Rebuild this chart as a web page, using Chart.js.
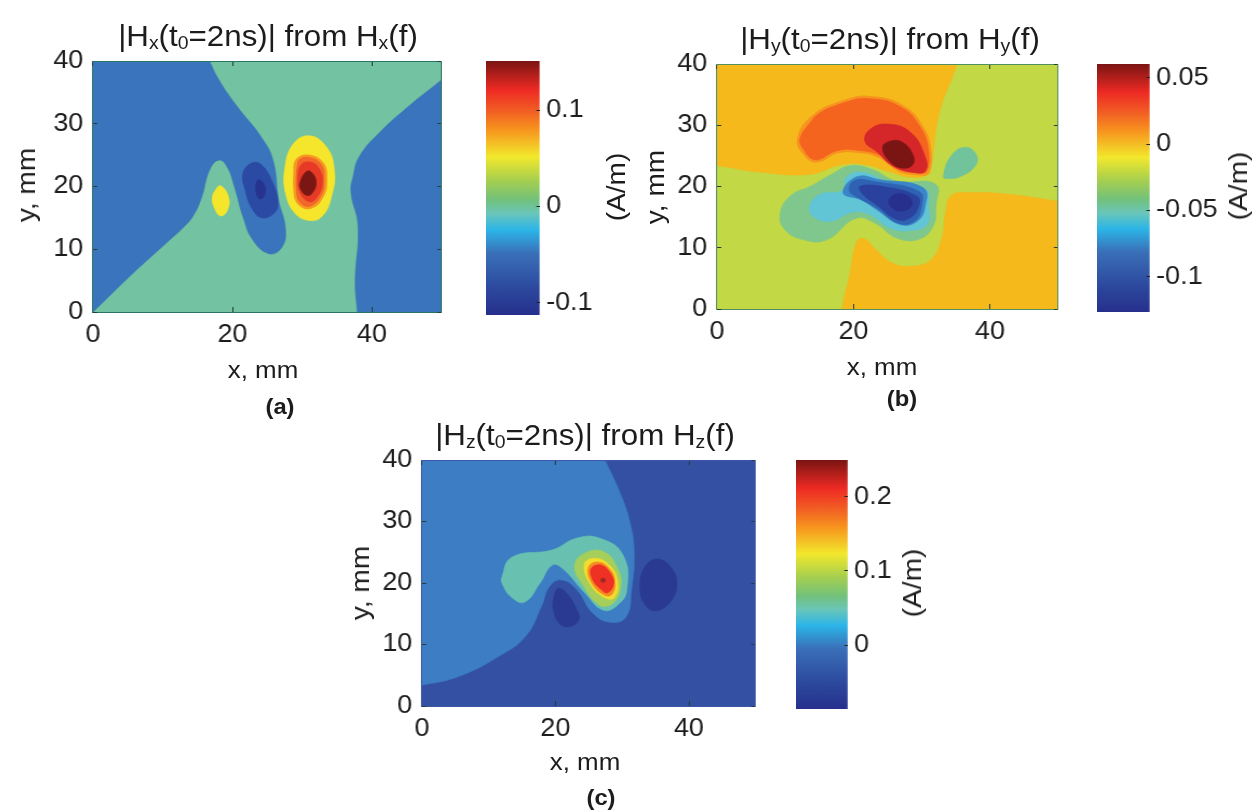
<!DOCTYPE html>
<html><head><meta charset="utf-8">
<script src="https://cdn.jsdelivr.net/npm/chart.js@4"></script>
<style>
html,body{margin:0;padding:0;background:#fff;width:1257px;height:810px;overflow:hidden}
#stage{position:absolute;left:0;top:0;width:1257px;height:810px;filter:blur(0.6px)}
canvas{position:absolute;transform-origin:0 0}
.t{position:absolute;white-space:nowrap;font-family:"Liberation Sans",Arial,sans-serif;color:#1c1c1c;line-height:1}
.t sub{font-size:.62em;vertical-align:-.22em;line-height:0}
</style></head><body><div id="stage"></div>
<script>
// ---------- tick labels ----------
const xTickValues = [0, 20, 40];
const yTickValues = [0, 10, 20, 30, 40];
const barTicksA = [-0.1, 0, 0.1];
const barTicksB = [-0.1, -0.05, 0, 0.05];
const barTicksC = [0, 0.1, 0.2];
const barRangeA = [-0.1125, 0.151];
const barRangeB = [-0.1265, 0.0605];
const barRangeC = [-0.0863, 0.2497];

// ---------- colour scale ----------
const jetStops  = [0, .114, .19, .27, .377, .47, .547, .60, .665, .757, .89, 1];
const jetColors = ['#7a1513','#ee2a24','#f15a24','#f7941e','#f2e82c','#a6cf4f','#72c17c','#6ac6b9','#2cb5e8','#3a70b8','#2d4a9f','#26308c'];

// ---------- contour regions, panel (a) Hx ----------
const aBlueLeft = [[-3,-3],[0,0],[5,5.4],[10.5,11],[12.8,13.3],[14.4,15.4],[15.6,18.4],[16.7,22.6],[18,24.2],[19.2,23.2],[20.4,19.5],[21.5,15.2],[22.9,11.5],[25.2,9.3],[27,10.2],[27.6,13.1],[26.6,17.9],[25.8,24.2],[24.1,27.9],[20.7,32.7],[18.1,36.9],[16.7,40],[15.6,43],[-3,43]];
const aBlueRight = [[53,39.8],[50,37],[45.6,33.1],[41,28.5],[38.2,24.8],[37.3,21.6],[37,19],[38,13.7],[37.6,4.7],[37.9,0],[38,-3],[53,-3]];
const aNavy = [[22.7,23.7],[24.1,23.5],[25.8,20.5],[26.5,17.4],[26,15.8],[24.3,15],[22.9,16.3],[21.8,19.5],[21.5,22.1]];
const aNavyCore = [[23.6,21],[24.4,20.6],[24.7,19],[24,18],[23.4,19]];
const aYellowSmall = [[18.3,20.1],[19.4,18.4],[19.3,16.3],[18.3,15.3],[17.4,16.6],[17.1,18.2],[17.6,19.5]];
const aYellow = [[27.5,22.7],[28.6,26.6],[30.9,28.1],[33.4,26.4],[34.6,22.7],[34.2,18.4],[32.8,15.2],[30.9,14.6],[28.9,15.8],[27.6,19]];
const aOrange = [[28.9,22.1],[29.2,24.2],[30.9,24.9],[32.9,23.7],[33.4,21.1],[32.9,18.4],[31.1,16.6],[29.4,17.4],[28.9,19.5]];
const aRed = [[29.4,21],[29.8,23.4],[31.1,23.9],[32.4,22.9],[32.9,20.5],[32,18.1],[30.9,17.6],[29.7,19]];
const aCore = [[29.7,20.6],[30.6,22.4],[31.4,22.2],[32,20.6],[31.4,18.9],[30.6,18.6],[29.8,19.5]];

// ---------- contour regions, panel (b) Hy ----------
const bOrangeTop = [[-3,23.7],[0,23.4],[6.7,22.3],[13.8,22],[18,23.5],[21.5,23.6],[25,22.5],[28.5,21.5],[31,22],[31.4,23.4],[32.6,32.1],[35.2,40],[35.8,43],[-3,43]];
const bOrangeBottom = [[18,-3],[18.3,0],[19.5,5.9],[20.4,10.8],[21.5,11.5],[23,10],[25.7,7.5],[28.7,7],[31.4,8.1],[32.9,11.4],[33.5,15.7],[34.3,18.5],[37,19],[43,18.7],[50,17.6],[53,17.2],[53,-3]];
const bGreen = [[9.3,15.7],[10.8,18.5],[13.8,20.1],[16.8,22],[19.5,23.4],[22.7,22.8],[26.3,20.9],[32,20.4],[32.1,16.8],[31.7,13.6],[29.6,11.4],[26.3,11.6],[23.3,13.9],[20.4,14.8],[16.1,11.3],[12.7,11.3],[9.9,13]];
const bCyan = [[13.6,16.8],[15.1,18.7],[18.5,19.4],[19,21.6],[21.5,22.3],[25.1,20.7],[30.5,19.6],[31,16.8],[30.8,13.8],[28.3,12.8],[25.4,13.2],[22.4,15.4],[19.9,15.8],[16.6,14.3],[14.1,15.1]];
const bBlue = [[18.5,19],[20.5,21.6],[23.9,21.1],[30.2,19.8],[30.5,16.7],[29.3,14.3],[26.8,13.8],[23.4,16.2],[21,17.9]];
const bMidBlue = [[19.4,19.4],[20.2,21],[23,20.8],[29.6,19.2],[30,17],[29,14.4],[26.6,14],[23.4,16.5],[20.5,18.3]];
const bNavy = [[21,20],[24.3,20],[29.3,18.4],[29.5,16.6],[28.3,14.9],[26.4,14.6],[23.4,17],[21.4,18.7]];
const bNavyCore = [[25.2,17.8],[26.5,18.8],[28.3,18.1],[28.4,16.7],[27,16],[25.7,16.5]];
const bOrangeRed = [[11.9,27.7],[14.1,31.5],[18.5,33.9],[22.4,34.6],[27.2,33.1],[30,29.8],[31.2,26.1],[30.9,22.3],[29.5,22],[26.8,22.5],[23.9,24.8],[20.5,25.7],[17.6,25.6],[14.6,24.1],[12.9,25.2]];
const bRed = [[21.7,27.4],[22.4,29.3],[24.9,30.2],[28.3,28.9],[30.5,24.9],[30.5,22.5],[28.7,22.3],[25.8,23.3],[23.4,25.7]];
const bCore = [[24.3,26.4],[25.4,27.4],[27.2,27.2],[28.7,25.2],[28.7,23.6],[27.2,23],[25.3,24.1]];
const bIsland = [[33.2,21.6],[34.2,24.8],[36.3,26.4],[38,25.2],[37.8,23.3],[35.6,21.6],[33.7,21.3]];

// ---------- contour regions, panel (c) Hz ----------
const cLight = [[-3,3],[0,3.4],[5.5,4.8],[11.4,8],[15.5,11.3],[17.9,16.2],[19.1,19.4],[20.9,20.5],[23.2,18.9],[25.6,15.1],[28.3,13.6],[30.6,14.5],[31.4,18.9],[31.8,24.8],[31.2,29.7],[29.7,34.6],[27.4,40],[26,43],[-3,43]];
const cTeal = [[12,21],[13.5,24.2],[19.6,25.4],[23.2,27.3],[26.6,27.3],[30.1,24.6],[30.7,18.9],[29.3,16.4],[27.1,15.6],[24.4,18.4],[21,22.4],[19.5,22.9],[17.7,20],[15.4,16.9],[13.5,17.6],[12.1,19.7]];
const cGreen = [[22.9,22.9],[24.7,25],[27.4,25],[29.3,22.4],[29.8,19.4],[28.6,16.7],[26.6,16.4],[24.1,19.7]];
const cYellow = [[24.4,23.2],[26.2,24],[28.1,22.9],[29.3,20.5],[28.9,17.7],[27.4,17.6],[25.1,20]];
const cOrange = [[25,22.6],[26.4,23.4],[28.1,22.3],[28.9,20.3],[28.5,18.2],[27.4,18],[25.4,20.1]];
const cRed = [[25.4,22.4],[26.9,22.9],[28.4,21.3],[28.7,19.7],[27.8,18.4],[26.9,18.9],[25.6,20.5]];
const cCore = [[26.9,20.7],[27.4,20.7],[27.4,20.2],[26.9,20.2]];
const cIslandLeft = [[19.7,17.2],[20.4,19.1],[21.7,18.3],[23.2,15.6],[23.5,14],[22,12.9],[20.6,13.4],[19.7,15.6]];
const cIslandRight = [[32.7,19.9],[33.6,22.9],[35.4,23.9],[37.4,22.4],[38.2,19.9],[37.4,17.2],[35.1,15.5],[33.3,16.7]];

// ---------- paint order, fill colours and rim colours ----------
const layersA = [[aBlueLeft,'#3a74bc'],[aBlueRight,'#3a74bc'],[aNavy,'#2b4aa4'],[aNavyCore,'#27348f'],[aYellowSmall,'#f5e62b'],[aYellow,'#f5e62b'],[aOrange,'#f2682a','#f79a22'],[aRed,'#e63a26'],[aCore,'#7a1714']];
const layersB = [[bOrangeTop,'#f6b91c'],[bOrangeBottom,'#f6b91c'],[bGreen,'#7fc78c'],[bCyan,'#62c5d6'],[bBlue,'#3a84c8'],[bMidBlue,'#2f62b2'],[bNavy,'#2a429d'],[bNavyCore,'#27308c'],[bOrangeRed,'#f4641f','#f7931f'],[bRed,'#d5262a'],[bCore,'#7a1514'],[bIsland,'#70c39b']];
const layersC = [[cLight,'#3c7dc3'],[cIslandLeft,'#2a3a92'],[cIslandRight,'#2a3a92'],[cTeal,'#68c1b0'],[cGreen,'#a5cf5a'],[cYellow,'#f2dc2e'],[cOrange,'#f68a20'],[cRed,'#ee3124'],[cCore,'#9a2a26']];

// ---------- page geometry ----------
const S = 1.08, LEFT = 95, BELOW = 42, ABOVE = 30, RIGHT = 25;
const stage = document.getElementById('stage');

function canvasAt(l, t, w, h) {
  const c = document.createElement('canvas');
  c.width = Math.round(w / S); c.height = h;
  c.style.cssText = `left:${l}px;top:${t}px;width:${Math.round(w / S)}px;height:${h}px;transform:scaleX(${S})`;
  stage.appendChild(c);
  return c;
}
function text(html, cx, cy, size, opts = {}) {
  const d = document.createElement('div');
  d.className = 't'; d.innerHTML = html;
  d.style.cssText = `left:${cx}px;top:${cy}px;font-size:${size}px;font-weight:${opts.bold ? 700 : 400};transform:translate(-50%,-50%) rotate(${opts.rot || 0}deg) scaleX(${S})`;
  stage.appendChild(d);
}
const fontTick = { family: '"Liberation Sans", Arial, sans-serif', size: 25 };

function contour(p, layers, bg, edge) {
  const [l, r, t, b] = p;
  const c = canvasAt(l - LEFT, t - ABOVE, r - l + LEFT + RIGHT, b - t + ABOVE + BELOW);
  const datasets = layers.map(([pts, color, rim], i) => ({
    // the outline is wrapped round by one point at each end so the curve also closes smoothly
    data: [pts[pts.length - 1], ...pts, pts[0], pts[1]].map(([x, y]) => ({ x, y })),
    showLine: true, fill: 'shape', tension: 0.45, capBezierPoints: false,
    backgroundColor: color, borderColor: rim || color, borderWidth: rim ? 2.4 : 0.6, pointRadius: 0,
    order: layers.length - i
  }));
  const grid = { drawOnChartArea: false, drawTicks: true, color: '#2a3a3a', z: 2 };
  const border = { display: true, color: edge, width: 1, z: 2 };
  new Chart(c, {
    type: 'scatter',
    data: { datasets },
    plugins: [{ id: 'bg', beforeDatasetsDraw(ch) {
      const a = ch.chartArea; ch.ctx.save(); ch.ctx.fillStyle = bg;
      ch.ctx.fillRect(a.left, a.top, a.width, a.height); ch.ctx.restore(); } }],
    options: {
      responsive: false, animation: false, devicePixelRatio: 1,
      layout: { padding: { left: 0, right: RIGHT / S, top: ABOVE, bottom: 0 } },
      plugins: { legend: { display: false }, tooltip: { enabled: false } },
      scales: {
        x: { type: 'linear', min: 0, max: 50, position: 'bottom',
          afterBuildTicks: a => { a.ticks = xTickValues.map(value => ({ value })); },
          afterFit: a => { a.height = BELOW; },
          grid: { ...grid, tickLength: -5 }, border,
          ticks: { font: fontTick, color: '#1c1c1c', padding: 13, maxRotation: 0, autoSkip: false, callback: v => String(v) } },
        y: { type: 'linear', min: 0, max: 40, position: 'left',
          afterBuildTicks: a => { a.ticks = yTickValues.map(value => ({ value })); },
          afterFit: a => { a.width = LEFT / S; },
          grid: { ...grid, tickLength: -4 }, border,
          ticks: { font: fontTick, color: '#1c1c1c', padding: 13, autoSkip: false, callback: v => String(v) } },
        x2: { type: 'linear', min: 0, max: 50, position: 'top',
          afterBuildTicks: a => { a.ticks = xTickValues.map(value => ({ value })); },
          afterFit: a => { a.height = 0; },
          grid: { ...grid, tickLength: -5 }, border, ticks: { display: false } },
        y2: { type: 'linear', min: 0, max: 40, position: 'right',
          afterBuildTicks: a => { a.ticks = yTickValues.map(value => ({ value })); },
          afterFit: a => { a.width = 0; },
          grid: { ...grid, tickLength: -4 }, border, ticks: { display: false } }
      }
    }
  });
}

function colorbar(box, range, ticks) {
  const [l, r, t, b] = box, pad = 30, total = 130;
  const c = canvasAt(l, t - pad, total, b - t + 2 * pad);
  new Chart(c, {
    type: 'bar',
    data: { labels: ['scale'], datasets: [{
      data: [range],
      categoryPercentage: 1, barPercentage: 1, borderWidth: 0,
      backgroundColor: ctx => {
        const a = ctx.chart.chartArea; if (!a) return jetColors[0];
        const g = ctx.chart.ctx.createLinearGradient(0, a.top, 0, a.bottom);
        jetStops.forEach((s, i) => g.addColorStop(s, jetColors[i]));
        return g;
      } }] },
    options: {
      responsive: false, animation: false, devicePixelRatio: 1,
      layout: { padding: { left: 0, right: 0, top: pad, bottom: pad } },
      plugins: { legend: { display: false }, tooltip: { enabled: false } },
      scales: {
        x: { display: false, offset: true },
        y: { type: 'linear', position: 'right', min: range[0], max: range[1],
          afterBuildTicks: a => { a.ticks = ticks.map(value => ({ value })); },
          afterFit: a => { a.width = (total - (r - l)) / S; },
          grid: { drawOnChartArea: false, tickLength: -3, color: '#222', z: 2 },
          border: { display: false },
          ticks: { font: fontTick, color: '#1c1c1c', padding: 9, autoSkip: false, callback: v => String(v) } }
      }
    }
  });
}

contour([93, 442, 61, 312], layersA, '#73c2a1', '#2a7466');
contour([717, 1058, 64, 309], layersB, '#c3d845', '#4f8f62');
contour([422, 756, 460, 706], layersC, '#3350a3', '#3b57a6');
colorbar([486, 540, 61, 315], barRangeA, barTicksA);
colorbar([1097, 1150, 64, 312], barRangeB, barTicksB);
colorbar([796, 848, 460, 709], barRangeC, barTicksC);

text('|H<sub>x</sub>(t<sub>0</sub>=2ns)| from H<sub>x</sub>(f)', 268, 36, 29);
text('|H<sub>y</sub>(t<sub>0</sub>=2ns)| from H<sub>y</sub>(f)', 890, 39, 29);
text('|H<sub>z</sub>(t<sub>0</sub>=2ns)| from H<sub>z</sub>(f)', 585, 435, 29);
text('x, mm', 263, 370, 24);
text('x, mm', 882, 367, 24);
text('x, mm', 585, 762, 24);
text('y, mm', 26, 185, 26, { rot: -90 });
text('y, mm', 655, 187, 26, { rot: -90 });
text('y, mm', 360, 583, 26, { rot: -90 });
text('(a)', 280, 407, 22, { bold: true });
text('(b)', 902, 399, 22, { bold: true });
text('(c)', 601, 798, 22, { bold: true });
text('(A/m)', 616, 187, 26, { rot: -90 });
text('(A/m)', 1238, 186, 26, { rot: -90 });
text('(A/m)', 912, 583, 26, { rot: -90 });
</script></body></html>
